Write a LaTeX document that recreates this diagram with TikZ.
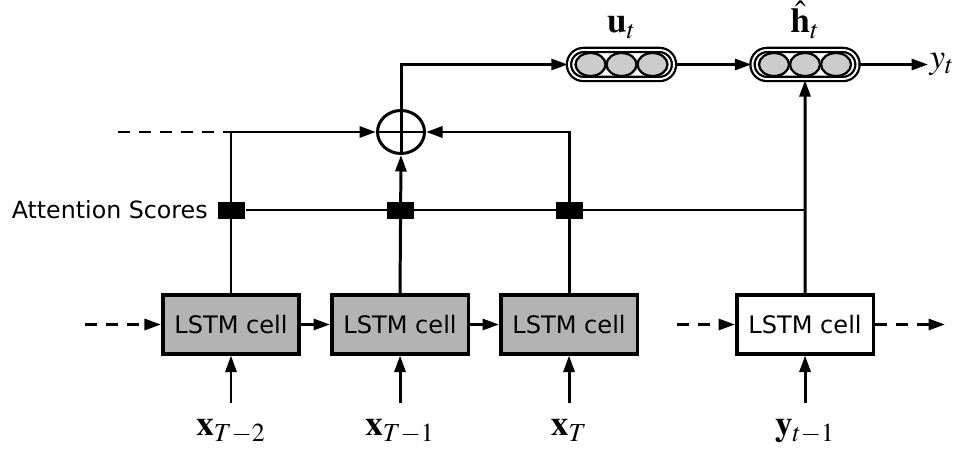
\documentclass[tikz,border=0pt]{standalone}
\usepackage{mathptmx}
\usepackage[no-math]{fontspec}
\setsansfont{DejaVu Sans}
\usepackage{xcolor}
\usetikzlibrary{arrows.meta,positioning,shapes.geometric,shapes.misc}

\definecolor{cellgray}{HTML}{B3B3B3}
\definecolor{unitgray}{HTML}{CCCCCC}

\begin{document}
\begin{tikzpicture}[
    node distance=0.58cm,
    line width=1.7pt,
    cell/.style={rectangle, draw, line width=2pt, minimum width=2.73cm, minimum height=1.17cm, font=\sffamily\fontsize{13.7}{16}\selectfont},
    gate/.style={rectangle, fill=black, minimum width=0.54cm, minimum height=0.34cm, inner sep=0pt},
    pill/.style={rounded rectangle, draw, line width=1.3pt, double, double distance=1.1pt, minimum width=2.1cm, minimum height=0.58cm, inner sep=0pt},
    unit/.style={ellipse, draw, line width=1.3pt, fill=unitgray, minimum width=0.6cm, minimum height=0.46cm, inner sep=0pt},
    vec/.style={inner sep=0pt, font=\fontsize{20}{24}\selectfont},
    arrow/.style={-{Triangle[length=3.3mm, width=2.2mm]}},
    dashline/.style={dash pattern=on 6.8pt off 5.1pt},
]
\useasboundingbox (0,0) rectangle (19.12,-9.04);

% encoder cells
\node[cell, fill=cellgray] (c1) at (4.62,-6.49) {LSTM cell};
\node[cell, fill=cellgray, right=of c1] (c2) {LSTM cell};
\node[cell, fill=cellgray, right=of c2] (c3) {LSTM cell};
\node[cell, right=1.92cm of c3] (c4) {LSTM cell};

% inputs
\node[vec, below=1.25cm of c1] (x2) {$\mathbf{x}_{T-2}$};
\node[vec, below=1.25cm of c2] (x1) {$\mathbf{x}_{T-1}$};
\node[vec, below=1.25cm of c3] (x0) {$\mathbf{x}_{T}$};
\node[vec, below=1.25cm of c4] (yp) {$\mathbf{y}_{t-1}$};

% attention
\coordinate (att) at (16.1,-4.2);
\node[gate] (g1) at (c1 |- att) {};
\node[gate] (g2) at (c2 |- att) {};
\node[gate] (g3) at (c3 |- att) {};
\node[left=0.02cm of g1, font=\sffamily\fontsize{13.5}{16}\selectfont] (attlbl) {Attention Scores};

\node[ellipse, draw, minimum width=0.94cm, minimum height=0.86cm, inner sep=0pt] (sum) at (8.02,-2.64) {};
\draw (sum.north) -- (sum.south) (sum.west) -- (sum.east);

% output vectors
\node[pill] (u) at (12.43,-1.29) {};
\node[pill] (h) at (16.1,-1.29) {};
\foreach \v in {u,h} {
    \node[unit] (\v1) at ([xshift=-0.62cm]\v.center) {};
    \node[unit] (\v2) at (\v.center) {};
    \node[unit] (\v3) at ([xshift=0.62cm]\v.center) {};
}
\node[vec, above=0.18cm of u] (ulbl) {$\mathbf{u}_t$};
\node[vec, above=0.18cm of h] (hlbl) {$\hat{\mathbf{h}}_t$};
\node[vec, anchor=west] (yt) at (18.56,-1.29) {$y_t$};

\coordinate (lin) at (2.36,-2.64);
\coordinate (ein) at (1.7,-6.49);
\coordinate (din) at (13.54,-6.49);
\coordinate (dout) at (18.9,-6.49);

% connectors
\draw[arrow] ([yshift=0.3cm]x2.north) -- (c1.south);
\draw[arrow] ([yshift=0.3cm]x1.north) -- (c2.south);
\draw[arrow] ([yshift=0.3cm]x0.north) -- (c3.south);
\draw[arrow] ([yshift=0.3cm]yp.north) -- (c4.south);

\draw[arrow] (c1) -- (c2);
\draw[arrow] (c2) -- (c3);
\draw[arrow, dashline] (ein) -- (c1);
\draw[arrow, dashline] (din) -- (c4);
\draw[arrow, dashline] (c4) -- (dout);

\draw[dashline] (lin) -- (c1.north |- sum.west);
\draw[arrow] (c1.north) |- (sum.west);
\draw[arrow] (c2.north) -- (sum.south);
\draw[arrow] (c3.north) |- (sum.east);
\draw (g1) -- (att);
\draw[arrow] (c4.north) -- (h.south);

\draw[arrow] (sum.north) |- (u.west);
\draw[arrow] (u) -- (h);
\draw[arrow] (h) -- (yt);
\end{tikzpicture}
\end{document}
